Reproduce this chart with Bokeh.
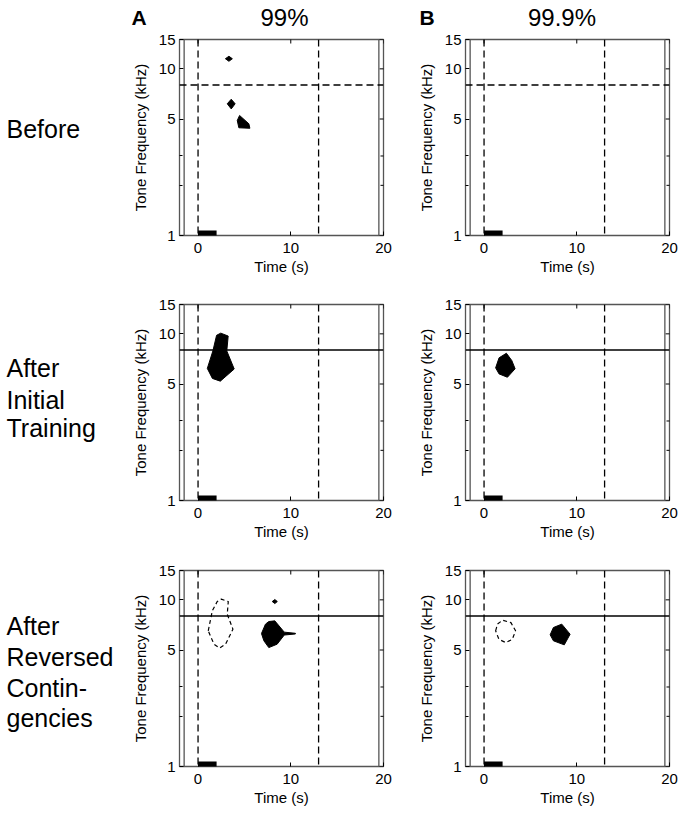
import math
from bokeh.plotting import figure
from bokeh.models import Range1d, FixedTicker, PrintfTickFormatter, Span
from bokeh.layouts import column, row
from bokeh.embed import file_html
from bokeh.resources import INLINE
from bokeh.core.properties import value

FONT = "Liberation Sans"

# ---------------- data ----------------
col_titles = ["99%", "99.9%"]
col_letters = ["A", "B"]
row_labels = [["Before"], ["After", "Initial", "Training"],
              ["After", "Reversed", "Contin-", "gencies"]]

x_ticks = [0, 10, 20]
y_ticks = [1, 5, 10, 15]
y_minor = [2, 3]
x_lim = (-2, 20)
y_lim = (1, 15)

trial_bounds = [-1.5, 19.5]      # thin grey verticals
event_times = [0, 13]            # dashed verticals (s)
cs_freq = 8                      # horizontal line (kHz)
tone_x = [0, 2]                  # tone bar (s)
tone_y = [1, 1]

# Row 1 (Before): significant regions (solid)
before_A_xs = [[2.95, 3.33, 3.7, 3.33],
               [3.15, 3.58, 4.0, 3.58],
               [4.48, 5.48, 5.59, 4.4, 4.23]]
before_A_ys = [[11.5, 11.9, 11.5, 11.1],
               [6.17, 6.57, 6.17, 5.75],
               [5.25, 4.68, 4.4, 4.43, 4.9]]
before_B_xs = []
before_B_ys = []

# Row 2 (After initial training)
init_A_xs = [[2.0, 2.45, 3.25, 3.1, 3.9, 2.4, 1.55, 1.0, 1.6]]
init_A_ys = [[9.8, 10.1, 9.7, 7.9, 6.15, 5.2, 5.4, 6.2, 7.9]]
init_B_xs = [[1.25, 1.62, 2.41, 2.99, 3.35, 2.52, 1.62]]
init_B_ys = [[6.25, 7.18, 7.65, 6.92, 6.17, 5.49, 5.75]]

# Row 3 (After reversed contingencies): solid = new, dashed = previous
rev_A_xs = [[6.84, 7.27, 7.63, 8.28, 9.3, 10.5, 10.5, 9.3, 8.53, 7.63, 7.1],
            [8.0, 8.28, 8.55, 8.28]]
rev_A_ys = [[6.28, 7.15, 7.41, 7.48, 6.4, 6.3, 6.24, 6.15, 5.42, 5.17, 5.68],
            [9.77, 10.04, 9.77, 9.5]]
rev_A_old_xs = [[1.1, 1.54, 2.07, 2.5, 3.26, 3.15, 3.76, 2.97, 2.33, 1.72]]
rev_A_old_ys = [[6.52, 8.6, 9.77, 10.1, 9.77, 8.2, 6.67, 5.42, 5.13, 5.42]]
rev_B_xs = [[7.13, 7.48, 8.38, 9.28, 8.65, 7.48]]
rev_B_ys = [[6.17, 6.82, 7.15, 6.22, 5.37, 5.68]]
rev_B_old_xs = [[1.25, 1.45, 2.0, 2.9, 3.4, 3.05, 2.34, 1.6]]
rev_B_old_ys = [[6.52, 7.15, 7.55, 7.3, 6.52, 5.8, 5.54, 5.8]]

# ---------------- layout numbers (pixels) ----------------
FW, FH = 204, 196
LABEL_W = 128
TOP_H = 31
BORDERS = [(8, 61), (8, 62), (8, 45)]   # (top, bottom) per row
A_LR = (49, 30)
B_LR = (52, 13)
# vertical text centres of the row labels, from the top of each panel frame
label_mid = [[89.5], [63, 95, 123.5], [55, 86.5, 117, 147]]


def style_axis(ax):
    ax.axis_line_color = None
    ax.major_tick_in = 4
    ax.major_tick_out = 0
    ax.minor_tick_in = 3
    ax.minor_tick_out = 0
    ax.major_tick_line_color = "black"
    ax.minor_tick_line_color = "black"
    ax.major_label_text_font = FONT
    ax.major_label_text_font_size = "15px"
    ax.major_label_text_color = "black"
    ax.axis_label_text_font = FONT
    ax.axis_label_text_font_size = "15px"
    ax.axis_label_text_font_style = "normal"
    ax.axis_label_text_color = "black"


def panel(lr, tb, solid_xs, solid_ys, old_xs, old_ys, hdash):
    p = figure(frame_width=FW, frame_height=FH, title=None,
               x_range=Range1d(*x_lim), y_range=Range1d(*y_lim),
               y_axis_type="log", output_backend="svg", toolbar_location=None,
               min_border_left=lr[0], min_border_right=lr[1],
               min_border_top=tb[0], min_border_bottom=tb[1])
    p.grid.visible = False
    p.outline_line_color = "#555555"
    p.outline_line_width = 1.3
    p.background_fill_color = "white"
    p.border_fill_color = "white"

    p.xaxis.ticker = FixedTicker(ticks=x_ticks, minor_ticks=[])
    p.yaxis.ticker = FixedTicker(ticks=y_ticks, minor_ticks=y_minor)
    p.yaxis.formatter = PrintfTickFormatter(format="%d")
    p.xaxis.formatter = PrintfTickFormatter(format="%d")
    p.xaxis.axis_label = "Time (s)"
    p.yaxis.axis_label = "Tone Frequency (kHz)"
    for ax in p.xaxis:
        style_axis(ax)
        ax.major_label_standoff = 7
        ax.axis_label_standoff = 2
    for ax in p.yaxis:
        style_axis(ax)
        ax.major_label_standoff = 4
        ax.axis_label_standoff = 7

    # inward ticks on the top and right edges (box-style axes)
    p.scatter(x_ticks, [y_lim[1]] * len(x_ticks), marker="dash", size=8,
              angle=math.pi / 2, line_color="black", line_width=1)
    p.scatter([x_lim[1]] * len(y_ticks), y_ticks, marker="dash", size=8,
              line_color="black", line_width=1)
    p.scatter([x_lim[1]] * len(y_minor), y_minor, marker="dash", size=6,
              line_color="black", line_width=1)

    for b in trial_bounds:
        p.add_layout(Span(location=b, dimension="height",
                          line_color="#555555", line_width=1.3))
    for t in event_times:
        p.add_layout(Span(location=t, dimension="height", line_color="black",
                          line_width=1.3, line_dash="7 4"))
    p.add_layout(Span(location=cs_freq, dimension="width", line_color="black",
                      line_width=1.3, line_dash="7 4" if hdash else "solid"))

    if solid_xs:
        p.patches(solid_xs, solid_ys, fill_color="black", line_color="black",
                  line_width=1)
    if old_xs:
        p.patches(old_xs, old_ys, fill_color=None, line_color="black",
                  line_width=1.2, line_dash="4 3")
    p.line(tone_x, tone_y, line_color="black", line_width=10)
    return p


def text_fig(w, h):
    p = figure(frame_width=w, frame_height=h, title=None,
               x_range=Range1d(0, w), y_range=Range1d(h, 0),
               output_backend="svg", toolbar_location=None,
               x_axis_location=None, y_axis_location=None,
               min_border=0, min_border_left=0, min_border_right=0,
               min_border_top=0, min_border_bottom=0)
    p.grid.visible = False
    p.outline_line_color = None
    p.background_fill_color = "white"
    p.border_fill_color = "white"
    return p


def label_fig(lines, mids):
    p = text_fig(LABEL_W, FH)
    p.text(x=[6] * len(lines), y=mids, text=lines,
           text_font=value(FONT), text_font_size="25px",
           text_baseline="alphabetic", text_align="left", text_color="black")
    return p


a_left = LABEL_W
b_left = LABEL_W + A_LR[0] + FW + A_LR[1]
TOTAL_W = b_left + B_LR[0] + FW + B_LR[1]

tp = text_fig(TOTAL_W, TOP_H)
tp.text(x=[131, 419], y=[16.5, 16.5], text=col_letters,
        text_font=value(FONT), text_font_size="21px", text_font_style="bold",
        text_baseline="alphabetic", text_align="left", text_color="black")
tp.text(x=[284, 561.5], y=[17, 17], text=col_titles, text_font=value(FONT),
        text_font_size="24px", text_baseline="alphabetic",
        text_align="center", text_color="black")

data = [
    ((before_A_xs, before_A_ys, [], []), (before_B_xs, before_B_ys, [], []), True),
    ((init_A_xs, init_A_ys, [], []), (init_B_xs, init_B_ys, [], []), False),
    ((rev_A_xs, rev_A_ys, rev_A_old_xs, rev_A_old_ys),
     (rev_B_xs, rev_B_ys, rev_B_old_xs, rev_B_old_ys), False),
]

rows = [tp]
for i, (da, db, hdash) in enumerate(data):
    tb = BORDERS[i]
    lf = label_fig(row_labels[i], label_mid[i])
    pa = panel(A_LR, tb, *da, hdash)
    pb = panel(B_LR, tb, *db, hdash)
    rows.append(row(lf, pa, pb, spacing=0))

layout = column(*rows, spacing=0)
open("out.html", "w").write(file_html(layout, INLINE))
